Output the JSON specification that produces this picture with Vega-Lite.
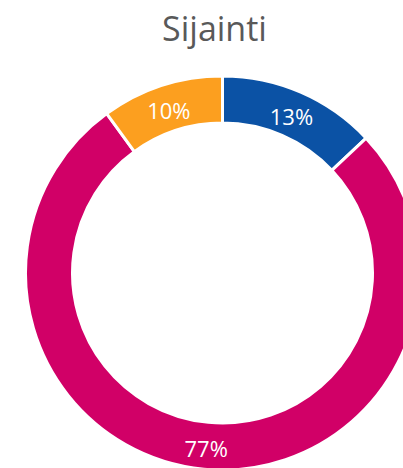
{
  "$schema": "https://vega.github.io/schema/vega-lite/v6.json",
  "autosize": "none",
  "width": 445,
  "height": 392,
  "padding": {"left": 0, "top": 77, "right": 0, "bottom": 0},
  "background": "white",
  "title": {
    "text": "Sijainti",
    "font": "Open Sans",
    "fontSize": 34,
    "fontWeight": "normal",
    "color": "#595959",
    "anchor": "middle",
    "baseline": "alphabetic",
    "offset": -5,
    "dx": -8
  },
  "data": {
    "values": [
      {"kategoria": "A", "osuus": 13, "teksti": "13%", "jarjestys": 1},
      {"kategoria": "B", "osuus": 77, "teksti": "77%", "jarjestys": 2},
      {"kategoria": "C", "osuus": 10, "teksti": "10%", "jarjestys": 3}
    ]
  },
  "encoding": {
    "theta": {"field": "osuus", "type": "quantitative", "stack": true},
    "order": {"field": "jarjestys", "type": "quantitative"},
    "color": {
      "field": "kategoria",
      "type": "nominal",
      "scale": {"domain": ["A", "B", "C"], "range": ["#0B52A5", "#D10067", "#FC9F1F"]},
      "legend": null
    }
  },
  "layer": [
    {
      "mark": {"type": "arc", "outerRadius": 197, "innerRadius": 150, "stroke": "white", "strokeWidth": 3}
    },
    {
      "mark": {"type": "text", "radius": 173.5, "font": "Open Sans", "fontSize": 22, "baseline": "alphabetic", "dy": 11},
      "encoding": {
        "text": {"field": "teksti", "type": "nominal"},
        "color": {"value": "white"}
      }
    }
  ],
  "config": {"view": {"stroke": null}}
}
